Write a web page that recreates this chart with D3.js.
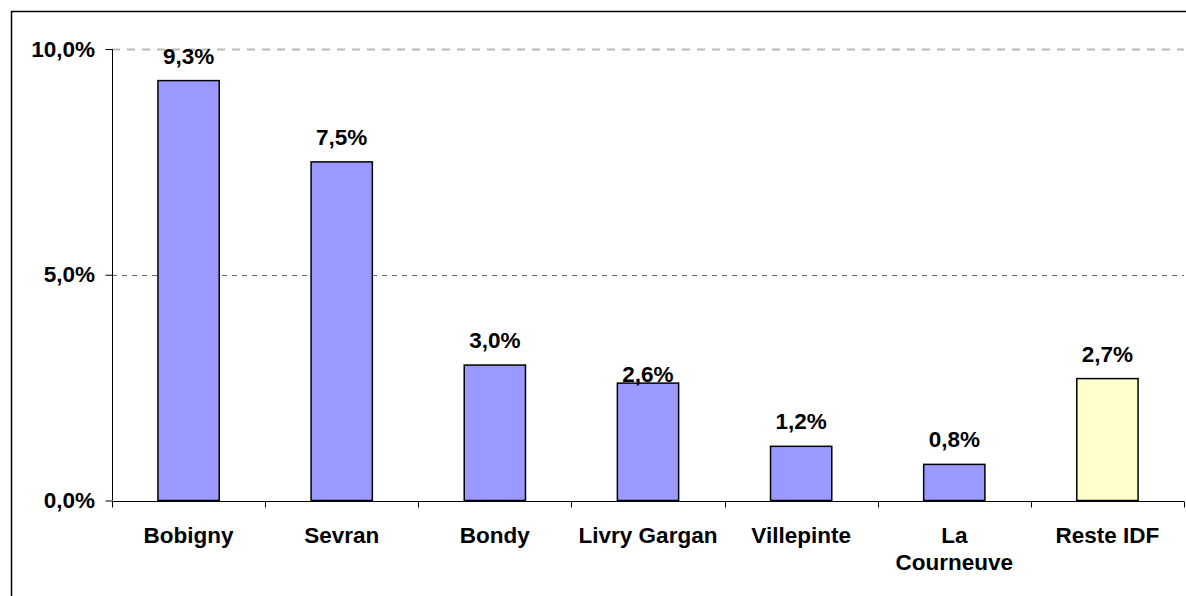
<!DOCTYPE html>
<html>
<head>
<meta charset="utf-8">
<script src="https://cdn.jsdelivr.net/npm/d3@7"></script>
<style>
    body { margin: 0; background: #fff; overflow: hidden; }
    svg { display: block; }
    text { font-family: "Liberation Sans", Arial, sans-serif; font-weight: bold; fill: #000; }
</style>
</head>
<body>
<div id="showBox"></div>
<script>
const communes = ["Bobigny", "Sevran", "Bondy", "Livry Gargan", "Villepinte", "La Courneuve", "Reste IDF"]
const taux = [9.3, 7.5, 3.0, 2.6, 1.2, 0.8, 2.7]
const yTicks = [0, 5, 10]

const width = 1186, height = 596
const margin = {left: 112, right: 2, top: 49, bottom: 95}
const fontSize = 22.5

const svg = d3.select("#showBox").append("svg")
    .attr("width", width)
    .attr("height", height)

// cadre extérieur
svg.append("rect")
    .attr("x", 11.5).attr("y", 11.5)
    .attr("width", width + 10).attr("height", height + 10)
    .attr("fill", "none")
    .attr("stroke", "#000")
    .attr("stroke-width", 1.5)

const x = d3.scaleBand()
    .domain(communes)
    .range([margin.left, width - margin.right])
    .paddingInner(0.6)
    .paddingOuter(0.3)

const y = d3.scaleLinear()
    .domain([0, 10])
    .range([height - margin.bottom - 0.5, margin.top])

const fmt = v => d3.format(".1f")(v).replace(".", ",") + "%"

// grille
svg.append("g")
    .selectAll("line")
    .data(yTicks.filter(d => d > 0))
    .join("line")
    .attr("x1", margin.left)
    .attr("x2", width - margin.right)
    .attr("y1", d => Math.round(y(d)) + 0.5)
    .attr("y2", d => Math.round(y(d)) + 0.5)
    .attr("stroke", d => d === 10 ? "#b8b8b8" : "#6a6a6a")
    .attr("stroke-width", d => d === 10 ? 2 : 1)
    .attr("stroke-dasharray", d => d === 10 ? "8,7" : "5,5")

// barres
svg.append("g")
    .selectAll("rect")
    .data(communes.map((c, i) => ({name: c, value: taux[i]})))
    .join("rect")
    .attr("x", d => x(d.name))
    .attr("y", d => y(d.value))
    .attr("width", x.bandwidth())
    .attr("height", d => y(0) - y(d.value))
    .attr("fill", d => d.name === "Reste IDF" ? "#ffffcc" : "#9999ff")
    .attr("stroke", "#000")
    .attr("stroke-width", 1.5)

// étiquettes de valeurs
svg.append("g")
    .attr("text-anchor", "middle")
    .attr("font-size", fontSize)
    .selectAll("text")
    .data(communes.map((c, i) => ({name: c, value: taux[i]})))
    .join("text")
    .attr("x", d => x(d.name) + x.bandwidth() / 2)
    .attr("y", d => y(d.value) - (d.name === "Livry Gargan" ? 1 : 17))
    .text(d => fmt(d.value))

// axe Y
const yAxis = svg.append("g")
    .attr("transform", `translate(${margin.left + 0.5},0)`)
    .call(d3.axisLeft(y).tickValues(yTicks).tickSize(7).tickFormat(fmt))
yAxis.select(".domain").attr("stroke", "#000").attr("d", `M0,${y(10)}V${y(0)}`)
yAxis.selectAll(".tick line").attr("stroke", "#000")
yAxis.selectAll(".tick text")
    .attr("x", -17.5)
    .attr("font-size", fontSize)
    .attr("font-family", null)

// axe X
const xStep = x.step()
const xAxis = svg.append("g")
    .attr("transform", `translate(0,${Math.round(y(0)) + 0.5})`)
xAxis.append("line")
    .attr("x1", margin.left).attr("x2", width - margin.right)
    .attr("stroke", "#000")
xAxis.selectAll("line.tick")
    .data(d3.range(communes.length + 1))
    .join("line")
    .attr("class", "tick")
    .attr("x1", i => Math.round(margin.left + i * xStep) + 0.5)
    .attr("x2", i => Math.round(margin.left + i * xStep) + 0.5)
    .attr("y1", 0).attr("y2", 6)
    .attr("stroke", "#000")

xAxis.selectAll("text")
    .data(communes)
    .join("text")
    .attr("text-anchor", "middle")
    .attr("font-size", fontSize)
    .attr("x", d => x(d) + x.bandwidth() / 2)
    .attr("y", 41)
    .each(function (d) {
        const parts = d === "La Courneuve" ? ["La", "Courneuve"] : [d]
        d3.select(this).selectAll("tspan")
            .data(parts)
            .join("tspan")
            .attr("x", x(d) + x.bandwidth() / 2)
            .attr("dy", (p, i) => i ? 27 : 0)
            .text(p => p)
    })
</script>
</body>
</html>
